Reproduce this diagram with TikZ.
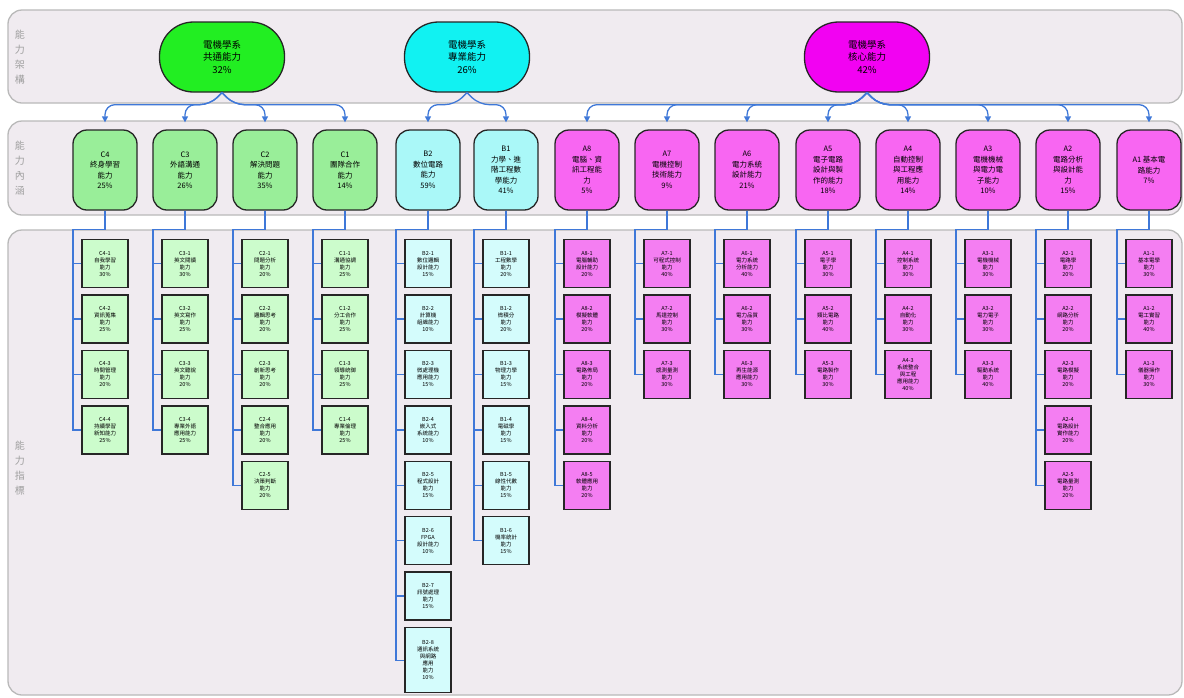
\documentclass[tikz,border=0pt]{standalone}
\usepackage{fontspec}
\setmainfont{Noto Sans CJK TC}
\usetikzlibrary{arrows.meta,calc}

\definecolor{lanebg}{HTML}{F0EBF0}
\definecolor{linkblue}{HTML}{3F78D8}
\definecolor{topG}{HTML}{22EE22}
\definecolor{topC}{HTML}{11F2F2}
\definecolor{topM}{HTML}{F202F2}
\definecolor{midG}{HTML}{99EE99}
\definecolor{midC}{HTML}{AAF8F8}
\definecolor{midM}{HTML}{F866F2}
\definecolor{leafG}{HTML}{CCFCCC}
\definecolor{leafC}{HTML}{D4FCFC}
\definecolor{leafM}{HTML}{F47EF2}

\tikzset{
  lane/.style={draw=gray!55, line width=1.3pt, fill=lanebg, rounded corners=14pt},
  lbl/.style={text=gray!75, align=center, font=\fontsize{10}{15}\selectfont},
  topbox/.style={draw=black!85, line width=1.3pt, rounded corners=34pt,
    minimum width=125pt, minimum height=70pt, align=center,
    font=\fontsize{9.5}{12.5}\selectfont},
  midbox/.style={draw=black!85, line width=1.3pt, rounded corners=14pt,
    minimum width=64pt, minimum height=80pt, align=center, inner sep=1pt,
    font=\fontsize{7.5}{10.5}\selectfont},
  leafbox/.style={draw=black!85, line width=1.5pt, minimum width=46pt,
    minimum height=48pt, align=center, inner sep=1pt,
    font=\fontsize{5.5}{7}\selectfont},
  link/.style={draw=linkblue, line width=1.3pt},
  arr/.style={link, -{Triangle[length=6pt,width=6pt]}, shorten >=7pt, rounded corners=10pt}
}

% a column of indicator boxes hanging from a competence node
\newcommand\indcolumn[3]{%
  \coordinate (#1r) at ($(#1.south)+(-32,19)$);
  \foreach \t [count=\k] in {#3} {
    \node[leafbox, fill=#2] (#1-\k) at ($(#1.south)+(0,53+55.4*\k-55.4)$) {\t};
    \draw[link] (#1.south) |- (#1r) |- (#1-\k.west);
  }}

\begin{document}
\begin{tikzpicture}[x=1pt,y=-1pt]
\useasboundingbox (0,0) rectangle (1184,697);

% swimlanes
\draw[lane] (8,10) rectangle (1182,103);
\draw[lane] (8,121) rectangle (1182,215);
\draw[lane] (8,230) rectangle (1182,695);
\node[lbl] (lab1) at (20,57) {能\\力\\架\\構};
\node[lbl] (lab2) at (20,168) {能\\力\\內\\涵};
\node[lbl] (lab3) at (20,468) {能\\力\\指\\標};

% framework level
\node[topbox, fill=topG] (G) at (222,57) {電機學系\\共通能力\\32\%};
\node[topbox, fill=topC] (B) at (467,57) {電機學系\\專業能力\\26\%};
\node[topbox, fill=topM] (A) at (867,57) {電機學系\\核心能力\\42\%};

% competence level
\node[midbox, fill=midG] (C4) at (105,170) {C4\\終身學習\\能力\\25\%};
\node[midbox, fill=midG] (C3) at (185,170) {C3\\外語溝通\\能力\\26\%};
\node[midbox, fill=midG] (C2) at (265,170) {C2\\解決問題\\能力\\35\%};
\node[midbox, fill=midG] (C1) at (345,170) {C1\\團隊合作\\能力\\14\%};
\node[midbox, fill=midC] (B2) at (428,170) {B2\\數位電路\\能力\\59\%};
\node[midbox, fill=midC] (B1) at (506,170) {B1\\力學、進\\階工程數\\學能力\\41\%};
\node[midbox, fill=midM] (A8) at (587,170) {A8\\電腦、資\\訊工程能\\力\\5\%};
\node[midbox, fill=midM] (A7) at (667,170) {A7\\電機控制\\技術能力\\9\%};
\node[midbox, fill=midM] (A6) at (747,170) {A6\\電力系統\\設計能力\\21\%};
\node[midbox, fill=midM] (A5) at (828,170) {A5\\電子電路\\設計與製\\作的能力\\18\%};
\node[midbox, fill=midM] (A4) at (908,170) {A4\\自動控制\\與工程應\\用能力\\14\%};
\node[midbox, fill=midM] (A3) at (988,170) {A3\\電機機械\\與電力電\\子能力\\10\%};
\node[midbox, fill=midM] (A2) at (1068,170) {A2\\電路分析\\與設計能\\力\\15\%};
\node[midbox, fill=midM] (A1) at (1149,170) {A1 基本電\\路能力\\7\%};

% framework -> competence connectors
\foreach \c in {C4,C3} \draw[arr] (G.south) -- ++(-12,12) -| (\c.north);
\foreach \c in {C2,C1} \draw[arr] (G.south) -- ++(12,12) -| (\c.north);
\draw[arr] (B.south) -- ++(-12,12) -| (B2.north);
\draw[arr] (B.south) -- ++(12,12) -| (B1.north);
\foreach \c in {A8,A7,A6,A5} \draw[arr] (A.south) -- ++(-12,12) -| (\c.north);
\foreach \c in {A4,A3,A2,A1} \draw[arr] (A.south) -- ++(12,12) -| (\c.north);

% indicator level
\indcolumn{C4}{leafG}{{C4-1\\自我學習\\能力\\30\%},{C4-2\\資訊蒐集\\能力\\25\%},{C4-3\\時間管理\\能力\\20\%},{C4-4\\持續學習\\新知能力\\25\%}}
\indcolumn{C3}{leafG}{{C3-1\\英文閱讀\\能力\\30\%},{C3-2\\英文寫作\\能力\\25\%},{C3-3\\英文聽說\\能力\\20\%},{C3-4\\專業外語\\應用能力\\25\%}}
\indcolumn{C2}{leafG}{{C2-1\\問題分析\\能力\\20\%},{C2-2\\邏輯思考\\能力\\20\%},{C2-3\\創新思考\\能力\\20\%},{C2-4\\整合應用\\能力\\20\%},{C2-5\\決策判斷\\能力\\20\%}}
\indcolumn{C1}{leafG}{{C1-1\\溝通協調\\能力\\25\%},{C1-2\\分工合作\\能力\\25\%},{C1-3\\領導統御\\能力\\25\%},{C1-4\\專業倫理\\能力\\25\%}}
\indcolumn{B2}{leafC}{{B2-1\\數位邏輯\\設計能力\\15\%},{B2-2\\計算機\\組織能力\\10\%},{B2-3\\微處理機\\應用能力\\15\%},{B2-4\\嵌入式\\系統能力\\10\%},{B2-5\\程式設計\\能力\\15\%},{B2-6\\FPGA\\設計能力\\10\%},{B2-7\\訊號處理\\能力\\15\%}}
\node[leafbox, fill=leafC, minimum height=65pt] (B2-8) at ($(B2.south)+(0,449.5)$) {B2-8\\通訊系統\\與網路\\應用\\能力\\10\%};
\draw[link] (B2.south) |- (B2r) |- (B2-8.west);
\indcolumn{B1}{leafC}{{B1-1\\工程數學\\能力\\20\%},{B1-2\\微積分\\能力\\20\%},{B1-3\\物理力學\\能力\\15\%},{B1-4\\電磁學\\能力\\15\%},{B1-5\\線性代數\\能力\\15\%},{B1-6\\機率統計\\能力\\15\%}}
\indcolumn{A8}{leafM}{{A8-1\\電腦輔助\\設計能力\\20\%},{A8-2\\模擬軟體\\能力\\20\%},{A8-3\\電路佈局\\能力\\20\%},{A8-4\\資料分析\\能力\\20\%},{A8-5\\軟體應用\\能力\\20\%}}
\indcolumn{A7}{leafM}{{A7-1\\可程式控制\\能力\\40\%},{A7-2\\馬達控制\\能力\\30\%},{A7-3\\感測量測\\能力\\30\%}}
\indcolumn{A6}{leafM}{{A6-1\\電力系統\\分析能力\\40\%},{A6-2\\電力品質\\能力\\30\%},{A6-3\\再生能源\\應用能力\\30\%}}
\indcolumn{A5}{leafM}{{A5-1\\電子學\\能力\\30\%},{A5-2\\類比電路\\能力\\40\%},{A5-3\\電路製作\\能力\\30\%}}
\indcolumn{A4}{leafM}{{A4-1\\控制系統\\能力\\30\%},{A4-2\\自動化\\能力\\30\%},{A4-3\\系統整合\\與工程\\應用能力\\40\%}}
\indcolumn{A3}{leafM}{{A3-1\\電機機械\\能力\\30\%},{A3-2\\電力電子\\能力\\30\%},{A3-3\\驅動系統\\能力\\40\%}}
\indcolumn{A2}{leafM}{{A2-1\\電路學\\能力\\20\%},{A2-2\\網路分析\\能力\\20\%},{A2-3\\電路模擬\\能力\\20\%},{A2-4\\電路設計\\實作能力\\20\%},{A2-5\\電路量測\\能力\\20\%}}
\indcolumn{A1}{leafM}{{A1-1\\基本電學\\能力\\30\%},{A1-2\\電工實習\\能力\\40\%},{A1-3\\儀器操作\\能力\\30\%}}
\end{tikzpicture}
\end{document}
